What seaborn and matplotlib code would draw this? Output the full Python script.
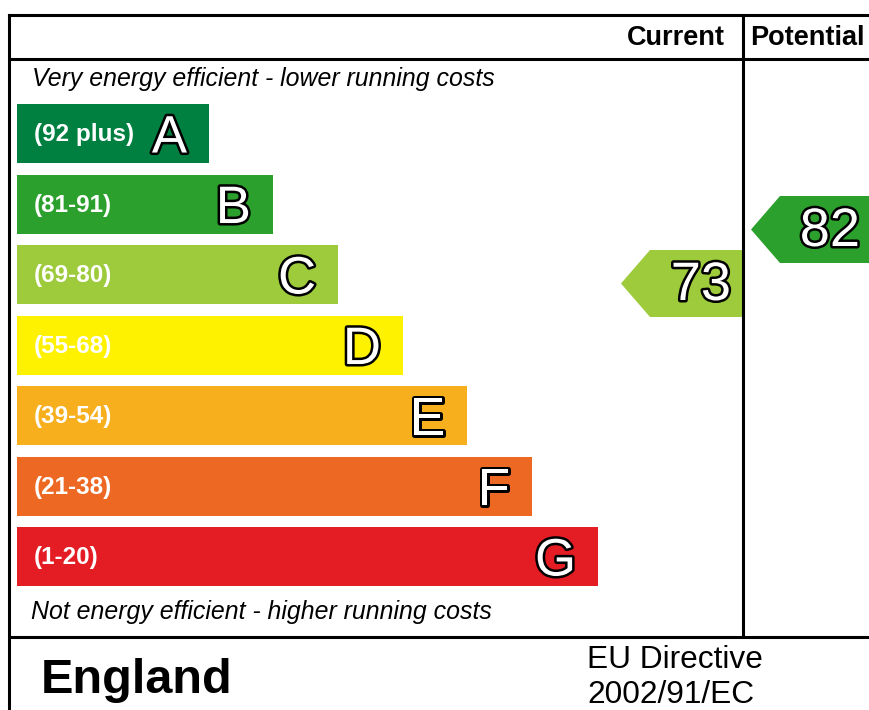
#----------- EPC Energy Rating Chart -----------#
import numpy as np
import matplotlib
matplotlib.use('Agg')
import matplotlib.pyplot as plt
import matplotlib.patheffects as pe
from matplotlib.patches import Polygon
import seaborn as sns

#Daten
bands = ['A', 'B', 'C', 'D', 'E', 'F', 'G']
ranges = ['(92 plus)', '(81-91)', '(69-80)', '(55-68)', '(39-54)', '(21-38)', '(1-20)']
bar_lengths = [192, 256, 321, 386, 450, 515, 581]
band_colors = ['#008040', '#2ca02c', '#9dcb3c', '#fff200', '#f7af1d', '#ed6823', '#e31d23']
current_score = 73
current_band = 'C'
potential_score = 82
potential_band = 'B'

sns.set_theme(style='white')
plt.rcParams['font.family'] = ['Liberation Sans', 'DejaVu Sans']
plt.rcParams['text.color'] = 'black'

W, H = 869, 710
fig = plt.figure(figsize=(W / 100, H / 100), dpi=100)

#Hauptachse in Pixelkoordinaten
ax = fig.add_axes([0, 0, 1, 1])
ax.set_xlim(0, W)
ax.set_ylim(H, 0)
ax.axis('off')

#Balken mit seaborn
pitch = 70.5
bar_h = 59
top = 104 - (pitch - bar_h) / 2
bottom = top + pitch * len(bands)
ax2 = fig.add_axes([0, 1 - bottom / H, 1, (bottom - top) / H])
sns.barplot(x=bar_lengths, y=bands, hue=bands, palette=band_colors, legend=False,
            saturation=1, width=bar_h / pitch, linewidth=0, ax=ax2)
ax2.set_xlim(-17, W - 17)
ax2.set_ylim(len(bands) - 0.5, -0.5)
ax2.axis('off')
ax2.patch.set_alpha(0)

outline = [pe.withStroke(linewidth=3.6, foreground='black')]
for i, (b, r, l) in enumerate(zip(bands, ranges, bar_lengths)):
    ax2.text(17, i + 0.11, r, color='white', fontsize=17.5, fontweight='bold',
             va='baseline', ha='left')
    ax2.text(l - 22, i + 0.27, b, color='white', fontsize=38, va='baseline', ha='right',
             path_effects=outline)

#Rahmen
lw = 2.2
ax.plot([9, W], [15, 15], color='black', lw=lw, solid_capstyle='projecting')
ax.plot([9, W], [59, 59], color='black', lw=lw)
ax.plot([9, 9], [15, H], color='black', lw=lw, solid_capstyle='projecting')
ax.plot([743, 743], [15, 637], color='black', lw=lw)
ax.plot([9, W], [637, 637], color='black', lw=lw)

#Kopfzeile und Beschriftungen
ax.text(725, 45, 'Current', fontsize=19.5, fontweight='bold', ha='right', va='baseline')
ax.text(750, 45, 'Potential', fontsize=19.5, fontweight='bold', ha='left', va='baseline')
ax.text(32, 86, 'Very energy efficient - lower running costs', fontsize=17.9, style='italic',
        ha='left', va='baseline')
ax.text(31, 619, 'Not energy efficient - higher running costs', fontsize=17.9, style='italic',
        ha='left', va='baseline')
ax.text(41, 693, 'England', fontsize=35, fontweight='bold', ha='left', va='baseline')
ax.text(587, 668, 'EU Directive', fontsize=22.8, ha='left', va='baseline')
ax.text(587, 703, '2002/91/EC', fontsize=22.8, ha='left', va='baseline')

#Pfeile fuer aktuelle und potentielle Bewertung
def rating_arrow(ax, tip_x, y_top, right_x, score, band, text_right):
    y_bot = y_top + 67
    y_mid = (y_top + y_bot) / 2
    color = band_colors[bands.index(band)]
    poly = Polygon([(tip_x, y_mid), (tip_x + 29, y_top), (right_x, y_top),
                    (right_x, y_bot), (tip_x + 29, y_bot)], closed=True,
                   facecolor=color, edgecolor='none')
    ax.add_patch(poly)
    ax.text(text_right, y_bot - 17, str(score), color='white', fontsize=39, ha='right',
            va='baseline', path_effects=outline)

rating_arrow(ax, 621, 250, 742, current_score, current_band, 731)
rating_arrow(ax, 751, 196, W, potential_score, potential_band, 860)

fig.savefig('out.png', dpi=100)
